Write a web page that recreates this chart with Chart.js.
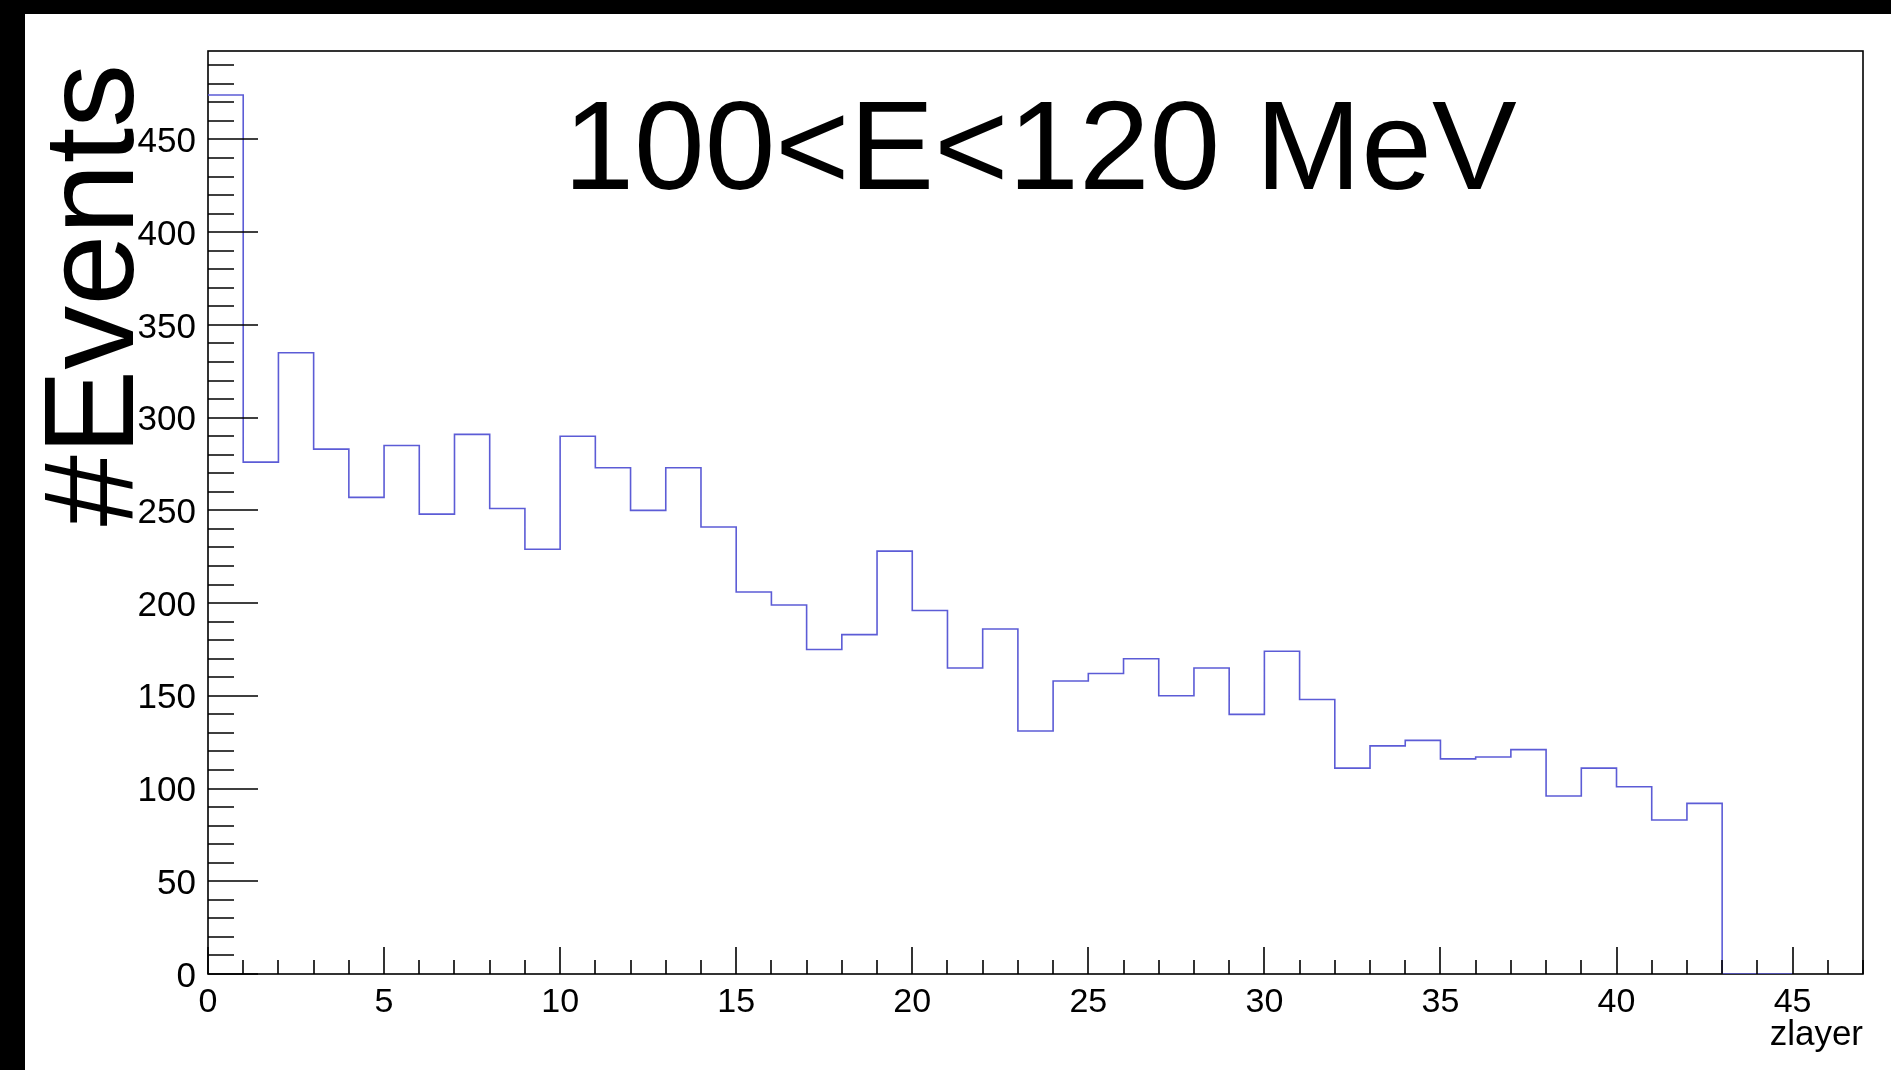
<!DOCTYPE html>
<html>
<head>
<meta charset="utf-8">
<title>zlayer 100&lt;E&lt;120 MeV</title>
<script src="https://cdn.jsdelivr.net/npm/chart.js@4.4.1/dist/chart.umd.min.js"></script>
<style>
    html, body { margin: 0; padding: 0; background: #ffffff; overflow: hidden; }
    canvas { display: block; }
</style>
</head>
<body>
<canvas id="zlayerChart" width="1891" height="1070"></canvas>
<script>
// bin lower edges (last one closes the final bin) and counts per bin
const layerEdges = [
    0, 1, 2, 3, 4, 5, 6, 7, 8, 9, 10, 11, 12, 13, 14, 15, 16, 17, 18, 19, 20, 21, 22,
    23, 24, 25, 26, 27, 28, 29, 30, 31, 32, 33, 34, 35, 36, 37, 38, 39, 40, 41, 42, 43, 44, 45,
];
const eventCounts = [
    474, 276, 335, 283, 257, 285, 248, 291, 251, 229, 290, 273, 250, 273, 241, 206, 199, 175,
    183, 228, 196, 165, 186, 131, 158, 162, 170, 150, 165, 140, 174, 148, 111, 123, 126, 116,
    117, 121, 96, 111, 101, 83, 92, 0, 0,
];
const xTickValues = [0, 5, 10, 15, 20, 25, 30, 35, 40, 45];
const yTickValues = [0, 50, 100, 150, 200, 250, 300, 350, 400, 450];

const titleText = "100<E<120 MeV";
const yTitleText = "#Events";
const xTitleText = "zlayer";

const FONT = '"Liberation Sans", Arial, Helvetica, sans-serif';
Chart.defaults.font.family = FONT;

// ROOT style step outline: one point per edge, last edge repeats last count
const histPoints = layerEdges.map((edge, i) => ({
    x: edge,
    y: eventCounts[Math.min(i, eventCounts.length - 1)],
}));

const rootStyle = {
    id: "rootStyle",
    beforeDraw: (chart) => {
        const { ctx, width, height } = chart;
        ctx.save();
        ctx.fillStyle = "#ffffff";
        ctx.fillRect(0, 0, width, height);
        // black bands of the screenshot edges
        ctx.fillStyle = "#000000";
        ctx.fillRect(0, 0, width, 14);
        ctx.fillRect(0, 0, 25, height);
        ctx.restore();
    },
    beforeDatasetsDraw: (chart) => {
        const { ctx, chartArea: a } = chart;
        ctx.save();
        ctx.strokeStyle = "#000000";
        ctx.lineWidth = 1.6;
        ctx.strokeRect(a.left, a.top, a.right - a.left, a.bottom - a.top);
        ctx.restore();
    },
    afterDatasetsDraw: (chart) => {
        const { ctx, chartArea: a, scales } = chart;
        ctx.save();
        ctx.strokeStyle = "#000000";
        ctx.lineWidth = 1.6;
        ctx.beginPath();
        // x ticks, inside the frame, pointing up
        for (let v = 0; v <= scales.x.max; v += 1) {
            const px = Math.round(scales.x.getPixelForValue(v));
            const len = v % 5 === 0 ? 27 : 14;
            ctx.moveTo(px, a.bottom);
            ctx.lineTo(px, a.bottom - len);
        }
        // y ticks, inside the frame, pointing right
        for (let v = 0; v <= scales.y.max; v += 10) {
            const py = Math.round(scales.y.getPixelForValue(v));
            const len = v % 50 === 0 ? 50 : 26;
            ctx.moveTo(a.left, py);
            ctx.lineTo(a.left + len, py);
        }
        ctx.stroke();
        ctx.restore();
    },
    afterDraw: (chart) => {
        const { ctx } = chart;
        ctx.save();
        ctx.fillStyle = "#000000";
        ctx.textBaseline = "alphabetic";
        ctx.textAlign = "center";
        ctx.font = `127px ${FONT}`;
        ctx.fillText(titleText, 1040, 189);

        ctx.translate(133, 295);
        ctx.rotate(-Math.PI / 2);
        ctx.font = `128px ${FONT}`;
        ctx.fillText(yTitleText, 0, 0);
        ctx.restore();
    },
};

new Chart(document.getElementById("zlayerChart"), {
    type: "line",
    data: {
        datasets: [
            {
                label: "zlayer",
                data: histPoints,
                stepped: "before",
                borderColor: "rgb(92, 92, 214)",
                borderWidth: 1.6,
                pointRadius: 0,
                fill: false,
            },
        ],
    },
    options: {
        responsive: false,
        animation: false,
        events: [],
        layout: {
            padding: { top: 51, right: 28, left: 0, bottom: 0 },
        },
        plugins: {
            legend: { display: false },
            tooltip: { enabled: false },
            title: { display: false },
        },
        scales: {
            x: {
                type: "linear",
                min: 0,
                max: 47,
                grid: { display: false, drawTicks: false },
                border: { display: false },
                afterBuildTicks: (scale) => {
                    scale.ticks = xTickValues.map((v) => ({ value: v }));
                },
                afterFit: (scale) => {
                    scale.height = 96;
                },
                ticks: {
                    color: "#000000",
                    font: { size: 34 },
                    padding: 8,
                    maxRotation: 0,
                    autoSkip: false,
                    includeBounds: false,
                },
                title: {
                    display: true,
                    text: xTitleText,
                    align: "end",
                    color: "#000000",
                    font: { size: 35 },
                    padding: { top: 0, bottom: 14 },
                },
            },
            y: {
                type: "linear",
                min: 0,
                max: 497.7,
                grid: { display: false, drawTicks: false },
                border: { display: false },
                afterBuildTicks: (scale) => {
                    scale.ticks = yTickValues.map((v) => ({ value: v }));
                },
                afterFit: (scale) => {
                    scale.width = 208;
                },
                ticks: {
                    color: "#000000",
                    font: { size: 35 },
                    padding: 12,
                    labelOffset: 3,
                    autoSkip: false,
                    includeBounds: false,
                },
            },
        },
    },
    plugins: [rootStyle],
});
</script>
</body>
</html>
